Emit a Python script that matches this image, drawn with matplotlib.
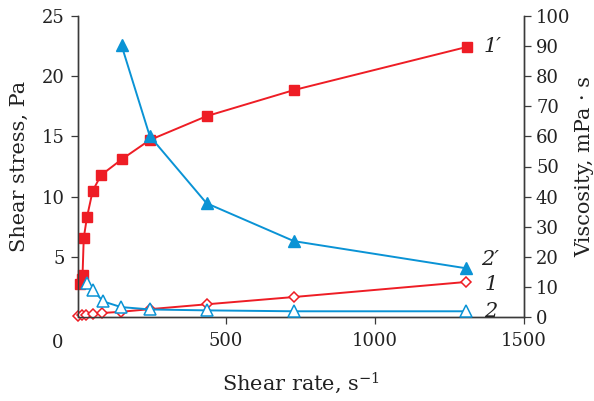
import matplotlib
matplotlib.use("Agg")
import matplotlib.pyplot as plt

plt.rcParams['font.family'] = ['DejaVu Serif']
plt.rcParams['mathtext.fontset'] = 'dejavuserif'

RED = "#EE1D25"
BLUE = "#0A93D5"
SPINE = "#3a3a3a"
TXT = "#222222"

# Curve 1' : shear stress (Pa), filled squares
rate_1p = [10, 14, 17, 21, 32, 51, 79, 149, 243, 434, 728, 1311]
stress_1p = [2.76, 3.13, 3.51, 6.57, 8.31, 10.47, 11.78, 13.1, 14.7, 16.68, 18.85, 22.44]

# Curve 1 : shear stress (Pa), open diamonds
rate_1 = [2, 14, 29, 51, 81, 145, 243, 437, 728, 1307]
stress_1 = [0.08, 0.14, 0.2, 0.25, 0.33, 0.43, 0.65, 1.06, 1.66, 2.91]

# Curve 2' : viscosity (mPa·s), filled triangles
rate_2p = [148, 243, 434, 728, 1306]
visc_2p = [90.3, 60.1, 37.8, 25.2, 16.2]

# Curve 2 : viscosity (mPa·s), open triangles
rate_2 = [31, 51, 86, 146, 245, 435, 728, 1307]
visc_2 = [11.3, 9.1, 5.2, 3.3, 2.5, 2.2, 1.9, 1.9]

left_ticks = [5, 10, 15, 20, 25]
right_ticks = [0, 10, 20, 30, 40, 50, 60, 70, 80, 90, 100]
x_ticks = [500, 1000, 1500]

fig = plt.figure(figsize=(5.94, 4.01), dpi=100)
ax = fig.add_axes([77.5 / 594, 1 - 317 / 401, 446 / 594, 301 / 401])
ax2 = ax.twinx()

ax.plot(rate_1p, stress_1p, color=RED, lw=1.4, marker='s', ms=7,
        mfc=RED, mec=RED, zorder=3, clip_on=False)
ax.plot(rate_1, stress_1, color=RED, lw=1.4, marker='D', ms=5.5,
        mfc='white', mec=RED, mew=1.1, zorder=3, clip_on=False)
ax2.plot(rate_2p, visc_2p, color=BLUE, lw=1.4, marker='^', ms=8,
         mfc=BLUE, mec=BLUE, zorder=3, clip_on=False)
ax2.plot(rate_2, visc_2, color=BLUE, lw=1.4, marker='^', ms=8.5,
         mfc='white', mec=BLUE, mew=1.1, zorder=3, clip_on=False)

ax.set_xlim(0, 1500)
ax.set_ylim(0, 25)
ax2.set_ylim(0, 100)
ax.set_xticks(x_ticks)
ax.set_yticks(left_ticks)
ax2.set_yticks(right_ticks)

for a in (ax, ax2):
    a.spines['top'].set_visible(False)
    for s in a.spines.values():
        s.set_color(SPINE)
        s.set_linewidth(1.0)
    a.tick_params(direction='out', length=5, width=0.9, color=SPINE,
                  labelsize=13, pad=4, labelcolor=TXT)
ax.tick_params(axis='x', pad=6)

# corner "0"
ax.annotate("0", xy=(0, 0), xycoords='data', xytext=(-14, -19),
            textcoords='offset points', ha='center', va='center',
            fontsize=13, color=TXT, annotation_clip=False)

ax.set_ylabel("Shear stress, Pa", fontsize=15, color=TXT)
ax2.set_ylabel("Viscosity, mPa · s", fontsize=15, color=TXT)
ax.set_xlabel("Shear rate, s$^{-1}$", fontsize=15, color=TXT)
ax.yaxis.set_label_coords(-0.108, 0.5)
ax2.yaxis.set_label_coords(1.116, 0.5)
ax.xaxis.set_label_coords(0.5, -0.178)

lab_kw = dict(textcoords='offset points', fontsize=15, style='italic',
              color=TXT, va='center', ha='left', annotation_clip=False)
ax.annotate("1\u2032", xy=(rate_1p[-1], stress_1p[-1]), xytext=(12, 0), **lab_kw)
ax.annotate("1", xy=(rate_1[-1], stress_1[-1]), xytext=(13, -2), **lab_kw)
ax2.annotate("2\u2032", xy=(rate_2p[-1], visc_2p[-1]), xytext=(11, 6), **lab_kw)
ax2.annotate("2", xy=(rate_2[-1], visc_2[-1]), xytext=(13, 0), **lab_kw)

fig.savefig("out.png", dpi=100)
